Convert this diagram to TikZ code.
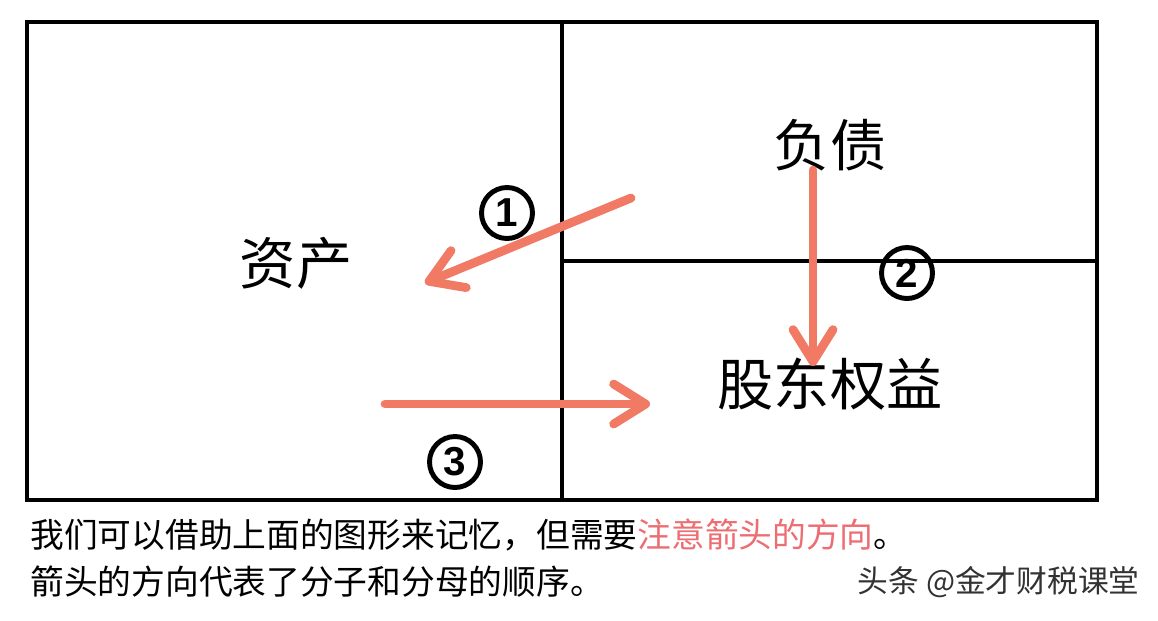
\documentclass[tikz,border=0pt]{standalone}
\usepackage{fontspec}
\usepackage{xcolor}
\usepackage{tikz}
\usetikzlibrary{arrows.meta, positioning}
\newfontfamily\cjk{Noto Sans CJK SC}
\newfontfamily\numfont{Liberation Sans}
\definecolor{arrowred}{RGB}{240,122,100}
\definecolor{notered}{RGB}{236,110,115}
\definecolor{markgray}{RGB}{50,50,50}

\begin{document}
\begin{tikzpicture}[
    x=0.02cm, y=-0.02cm,
    frame/.style={draw=black, line width=2pt},
    part/.style={font=\cjk\fontsize{32}{36}\selectfont, inner sep=0pt},
    num/.style={circle, draw=black, line width=2.8pt, minimum size=1.02cm,
                inner sep=0pt, font=\numfont\bfseries\fontsize{23}{25}\selectfont},
    arrow/.style={-{Straight Barb[length=0.64cm, width=0.8cm, round]},
                  line width=5pt, line cap=round, draw=arrowred},
    note/.style={font=\cjk\fontsize{19.2}{22}\selectfont, inner sep=0pt, anchor=west}
]
\useasboundingbox (0,0) rectangle (1158,620);

% frame of the balance sheet
\coordinate (tl) at (27,22);
\coordinate (br) at (1097,500);
\coordinate (midtop) at (562,22);
\coordinate (midbot) at (562,500);
\coordinate (midleft) at (562,261);
\coordinate (midright) at (1097,261);
\draw[frame] (tl) rectangle (br);
\draw[frame] (midtop) -- (midbot);
\draw[frame] (midleft) -- (midright);

% labels
\node[part] (assets) at (296,263) {资产};
\node[part] (debt) at (830,145) {负债};
\node[part] (equity) at (830,384) {股东权益};

% circled numbers
\node[num] (one) at (507,213) {1};
\node[num] (two) at (907,273) {2};
\node[num] (three) at (455,462) {3};

% arrows
\coordinate (a1s) at (631,198);
\coordinate (a1e) at (425,283);
\coordinate (a2s) at (813,170);
\coordinate (a2e) at (813,366);
\coordinate (a3s) at (385,404);
\coordinate (a3e) at (650,404);
\draw[arrow] (a1s) -- (a1e);
\draw[arrow] (a2s) -- (a2e);
\draw[arrow] (a3s) -- (a3e);

% text below
\node[note] (line1) at (30,535) {我们可以借助上面的图形来记忆，但需要{\color{notered}注意箭头的方向}。};
\node[note] (line2) at (30,582) {箭头的方向代表了分子和分母的顺序。};
\node[note, anchor=east, text=markgray, font=\cjk\fontsize{17.5}{20}\selectfont] (mark) at (1140,582) {头条 @金才财税课堂};
\end{tikzpicture}
\end{document}
